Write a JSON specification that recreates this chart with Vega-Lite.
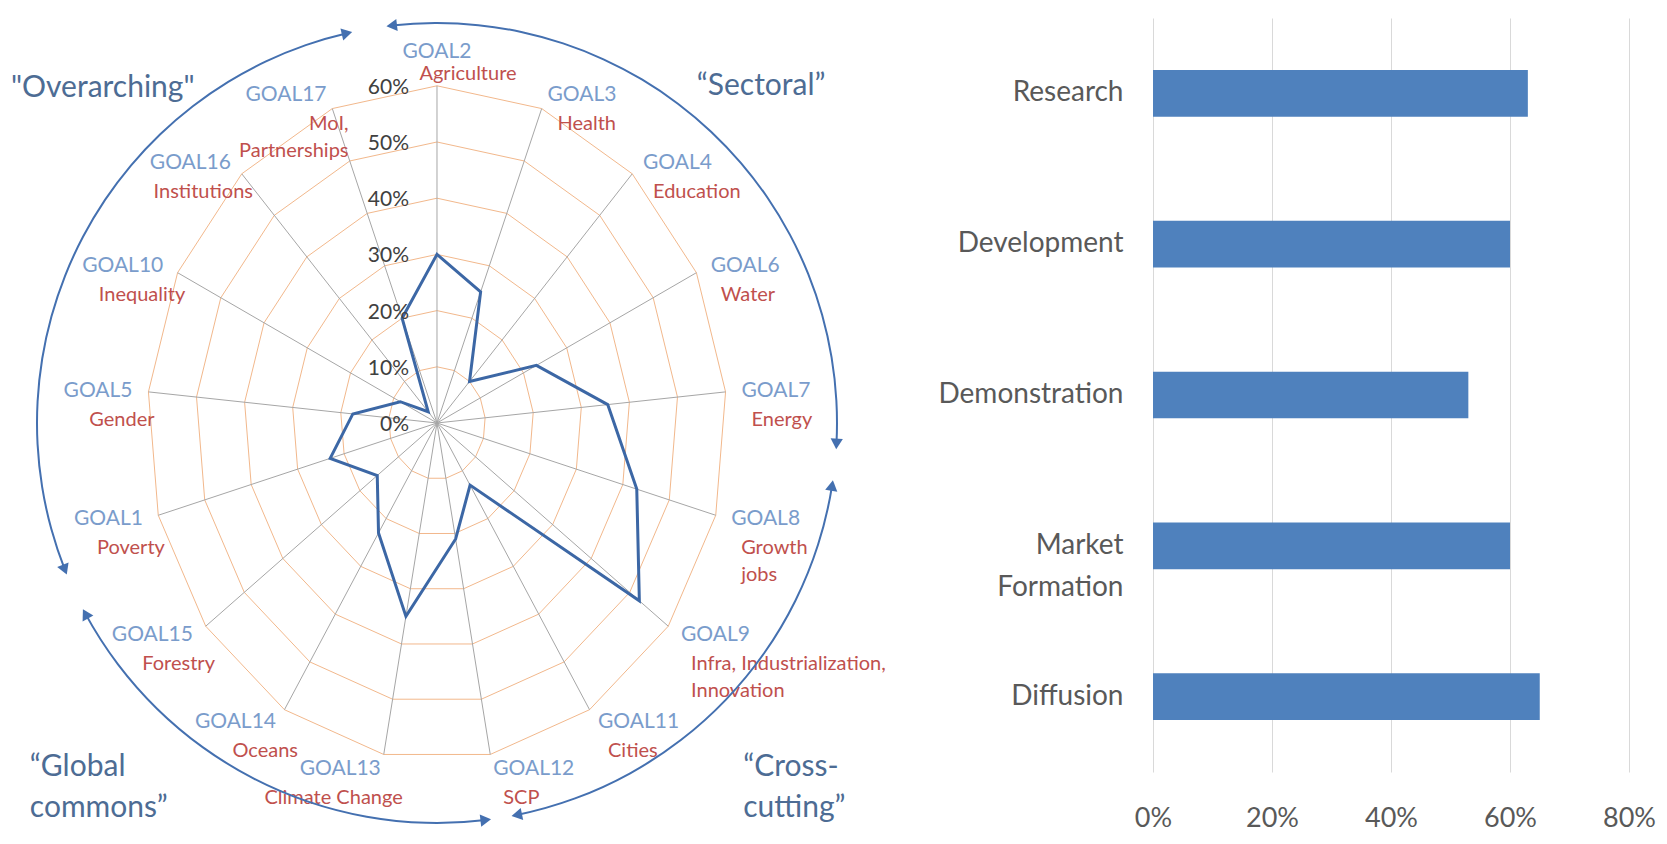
{
  "$schema": "https://vega.github.io/schema/vega-lite/v6.json",
  "padding": {"left": 0, "top": 18, "right": 0, "bottom": 0},
  "bounds": "flush",
  "spacing": 283,
  "background": "white",
  "config": {"view": {"stroke": null}, "font": "Lato"},
  "datasets": {
    "goals": [
      {"idx": 0, "goal": "GOAL2", "name": "Agriculture", "value": 0.30},
      {"idx": 1, "goal": "GOAL3", "name": "Health", "value": 0.25},
      {"idx": 2, "goal": "GOAL4", "name": "Education", "value": 0.10},
      {"idx": 3, "goal": "GOAL6", "name": "Water", "value": 0.23},
      {"idx": 4, "goal": "GOAL7", "name": "Energy", "value": 0.355},
      {"idx": 5, "goal": "GOAL8", "name": "Growth\njobs", "value": 0.43},
      {"idx": 6, "goal": "GOAL9", "name": "Infra, Industrialization,\nInnovation", "value": 0.525},
      {"idx": 7, "goal": "GOAL11", "name": "Cities", "value": 0.13},
      {"idx": 8, "goal": "GOAL12", "name": "SCP", "value": 0.21},
      {"idx": 9, "goal": "GOAL13", "name": "Climate Change", "value": 0.35},
      {"idx": 10, "goal": "GOAL14", "name": "Oceans", "value": 0.23},
      {"idx": 11, "goal": "GOAL15", "name": "Forestry", "value": 0.155},
      {"idx": 12, "goal": "GOAL1", "name": "Poverty", "value": 0.23},
      {"idx": 13, "goal": "GOAL5", "name": "Gender", "value": 0.175},
      {"idx": 14, "goal": "GOAL10", "name": "Inequality", "value": 0.085},
      {"idx": 15, "goal": "GOAL16", "name": "Institutions", "value": 0.027},
      {"idx": 16, "goal": "GOAL17", "name": "MoI,\nPartnerships", "value": 0.20}
    ],
    "levels": [
      {"level": 0}, {"level": 0.1}, {"level": 0.2}, {"level": 0.3},
      {"level": 0.4}, {"level": 0.5}, {"level": 0.6}
    ],
    "groups": [
      {"group": "Sectoral", "a0": -6.5, "a1": 93},
      {"group": "Cross-cutting", "a0": 99, "a1": 168.5},
      {"group": "Global commons", "a0": 173, "a1": 241.5},
      {"group": "Overarching", "a0": 248.5, "a1": 347}
    ],
    "phases": [
      {"phase": "Research", "share": 0.63},
      {"phase": "Development", "share": 0.60},
      {"phase": "Demonstration", "share": 0.53},
      {"phase": "Market Formation", "share": 0.60},
      {"phase": "Diffusion", "share": 0.65}
    ]
  },
  "hconcat": [
    {
      "width": 870,
      "height": 754,
      "layer": [
        {
          "data": {"name": "goals"},
          "transform": [
            {"calculate": "datum.idx * 2 * PI / 17", "as": "t"},
            {"calculate": "[0.1, 0.2, 0.3, 0.4, 0.5, 0.6]", "as": "lv"},
            {"flatten": ["lv"]},
            {"calculate": "datum.lv * sin(datum.t)", "as": "rx"},
            {"calculate": "datum.lv * cos(datum.t)", "as": "ry"}
          ],
          "mark": {"type": "line", "interpolate": "linear-closed", "color": "#F2B88C", "strokeWidth": 1},
          "encoding": {
            "x": {"field": "rx", "type": "quantitative", "scale": {"domain": [-0.90476, 0.89648], "nice": false, "zero": false}, "axis": null},
            "y": {"field": "ry", "type": "quantitative", "scale": {"domain": [-0.621, 0.72064], "nice": false, "zero": false}, "axis": null},
            "detail": {"field": "lv", "type": "nominal"},
            "order": {"field": "idx", "type": "quantitative"}
          }
        },
        {
          "data": {"name": "goals"},
          "transform": [
            {"calculate": "datum.idx * 2 * PI / 17", "as": "t"},
            {"calculate": "0", "as": "o"},
            {"calculate": "0.6 * sin(datum.t)", "as": "ex"},
            {"calculate": "0.6 * cos(datum.t)", "as": "ey"}
          ],
          "mark": {"type": "rule", "color": "#A6A6A6", "strokeWidth": 1},
          "encoding": {
            "x": {"field": "o", "type": "quantitative"},
            "y": {"field": "o", "type": "quantitative"},
            "x2": {"field": "ex"},
            "y2": {"field": "ey"}
          }
        },
        {
          "data": {"name": "goals"},
          "transform": [
            {"calculate": "datum.idx * 2 * PI / 17", "as": "t"},
            {"calculate": "datum.value * sin(datum.t)", "as": "px"},
            {"calculate": "datum.value * cos(datum.t)", "as": "py"}
          ],
          "mark": {"type": "line", "interpolate": "linear-closed", "color": "#3C67A5", "strokeWidth": 3},
          "encoding": {
            "x": {"field": "px", "type": "quantitative"},
            "y": {"field": "py", "type": "quantitative"},
            "order": {"field": "idx", "type": "quantitative"}
          }
        },
        {
          "data": {"name": "levels"},
          "transform": [{"calculate": "0", "as": "o"}],
          "mark": {"type": "text", "align": "right", "baseline": "middle", "dx": -28, "dy": 2, "fontSize": 21, "color": "#404040"},
          "encoding": {
            "x": {"field": "o", "type": "quantitative"},
            "y": {"field": "level", "type": "quantitative"},
            "text": {"field": "level", "type": "quantitative", "format": ".0%"}
          }
        },
        {
          "data": {"name": "goals"},
          "transform": [
            {"calculate": "datum.idx * 2 * PI / 17", "as": "t"},
            {"calculate": "sin(datum.t)", "as": "s"},
            {"calculate": "cos(datum.t)", "as": "c"},
            {"calculate": "0.6 * datum.s + 16 * datum.s / 483", "as": "bx"},
            {"calculate": "0.6 * datum.c + (datum.idx == 0 ? 34 : 15 * datum.c) / 562", "as": "by"}
          ],
          "mark": {"type": "text", "baseline": "middle", "fontSize": 21, "color": "#7A9CCB",
            "align": {"expr": "datum.s > 0.01 ? 'left' : (datum.s < -0.01 ? 'right' : 'center')"}},
          "encoding": {
            "x": {"field": "bx", "type": "quantitative"},
            "y": {"field": "by", "type": "quantitative"},
            "text": {"field": "goal"}
          }
        },
        {
          "data": {"name": "goals"},
          "transform": [
            {"calculate": "datum.idx * 2 * PI / 17", "as": "t"},
            {"calculate": "sin(datum.t)", "as": "s"},
            {"calculate": "cos(datum.t)", "as": "c"},
            {"calculate": "0.6 * datum.s + 16 * datum.s / 483", "as": "bx"},
            {"calculate": "0.6 * datum.c + (datum.idx == 0 ? 34 : 15 * datum.c) / 562", "as": "by"},
            {"calculate": "datum.bx + (datum.s > 0.01 ? 10 : (datum.s < -0.01 ? 22 : 31)) / 483", "as": "rx"},
            {"calculate": "datum.by - (datum.idx == 0 ? 12 : 19) / 562", "as": "ry"}
          ],
          "mark": {"type": "text", "baseline": "top", "fontSize": 20, "lineHeight": 27, "lineBreak": "\n", "color": "#C0504D",
            "align": {"expr": "datum.s > 0.01 ? 'left' : (datum.s < -0.01 ? 'right' : 'center')"}},
          "encoding": {
            "x": {"field": "rx", "type": "quantitative"},
            "y": {"field": "ry", "type": "quantitative"},
            "text": {"field": "name"}
          }
        },
        {
          "data": {"name": "groups"},
          "transform": [{"calculate": "0", "as": "o"}],
          "mark": {"type": "arc", "innerRadius": 399, "outerRadius": 401, "color": "#4470B0"},
          "encoding": {
            "x": {"field": "o", "type": "quantitative"},
            "y": {"field": "o", "type": "quantitative"},
            "theta": {"field": "a0", "type": "quantitative", "stack": null, "scale": {"domain": [0, 360], "range": [0, 6.283185307], "zero": false, "nice": false}},
            "theta2": {"field": "a1"}
          }
        },
        {
          "data": {"name": "groups"},
          "transform": [
            {"fold": ["a0", "a1"], "as": ["end", "deg"]},
            {"calculate": "datum.deg * PI / 180", "as": "th"},
            {"calculate": "0.8282 * sin(datum.th)", "as": "ax"},
            {"calculate": "0.7117 * cos(datum.th)", "as": "ay"},
            {"calculate": "datum.end == 'a1' ? datum.deg + 90 : datum.deg - 90", "as": "ang"}
          ],
          "mark": {"type": "point", "shape": "triangle-up", "filled": true, "size": 150, "color": "#4470B0", "opacity": 1},
          "encoding": {
            "x": {"field": "ax", "type": "quantitative"},
            "y": {"field": "ay", "type": "quantitative"},
            "angle": {"field": "ang", "type": "quantitative", "scale": null}
          }
        },
        {
          "data": {"values": [{}]},
          "mark": {"type": "text", "text": "\"Overarching\"", "align": "left", "baseline": "middle", "fontSize": 30, "color": "#4D6C94"},
          "encoding": {"x": {"datum": -0.882, "type": "quantitative"}, "y": {"datum": 0.596, "type": "quantitative"}}
        },
        {
          "data": {"values": [{}]},
          "mark": {"type": "text", "text": "“Sectoral”", "align": "left", "baseline": "middle", "fontSize": 30, "color": "#4D6C94"},
          "encoding": {"x": {"datum": 0.538, "type": "quantitative"}, "y": {"datum": 0.6, "type": "quantitative"}}
        },
        {
          "data": {"values": [{}]},
          "mark": {"type": "text", "text": "“Global\ncommons”", "lineBreak": "\n", "lineHeight": 41, "align": "left", "baseline": "middle", "fontSize": 30, "color": "#4D6C94"},
          "encoding": {"x": {"datum": -0.843, "type": "quantitative"}, "y": {"datum": -0.612, "type": "quantitative"}}
        },
        {
          "data": {"values": [{}]},
          "mark": {"type": "text", "text": "“Cross-\ncutting”", "lineBreak": "\n", "lineHeight": 41, "align": "left", "baseline": "middle", "fontSize": 30, "color": "#4D6C94"},
          "encoding": {"x": {"datum": 0.634, "type": "quantitative"}, "y": {"datum": -0.612, "type": "quantitative"}}
        }
      ]
    },
    {
      "width": 476,
      "height": 754,
      "data": {"name": "phases"},
      "mark": {"type": "bar", "color": "#4F81BD"},
      "encoding": {
        "y": {
          "field": "phase", "type": "nominal", "sort": null,
          "scale": {"paddingInner": 0.69, "paddingOuter": 0.345},
          "axis": {
            "title": null, "domain": false, "ticks": false, "tickSize": 0, "grid": false,
            "labelFont": "Lato", "labelFontSize": 28, "labelColor": "#595959", "labelPadding": 30,
            "labelLimit": 400, "labelLineHeight": 42,
            "labelExpr": "datum.value == 'Market Formation' ? ['Market', 'Formation'] : datum.value"
          }
        },
        "x": {
          "field": "share", "type": "quantitative",
          "scale": {"domain": [0, 0.8], "nice": false},
          "axis": {
            "title": null, "values": [0, 0.2, 0.4, 0.6, 0.8], "format": ".0%",
            "domain": false, "ticks": false, "tickSize": 0, "grid": true, "gridColor": "#D9D9D9", "gridWidth": 1,
            "labelFont": "Lato", "labelFontSize": 27, "labelColor": "#595959",
            "labelPadding": 46, "labelBaseline": "middle", "labelFlush": false
          }
        }
      }
    }
  ]
}
